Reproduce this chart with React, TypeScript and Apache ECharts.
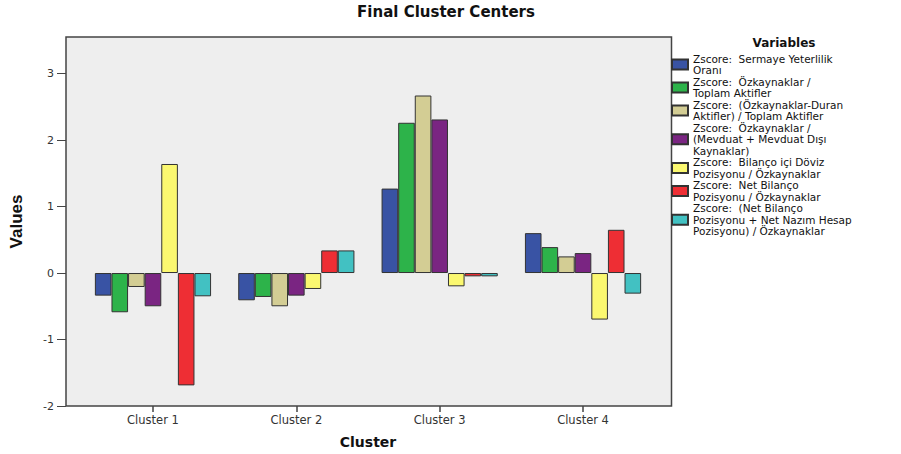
import React, { useEffect, useRef } from "react";
import * as echarts from "echarts";

const categories = ["Cluster 1", "Cluster 2", "Cluster 3", "Cluster 4"];
const seriesNames = [
  "Zscore:  Sermaye Yeterlilik\nOranı",
  "Zscore:  Özkaynaklar /\nToplam Aktifler",
  "Zscore:  (Özkaynaklar-Duran\nAktifler) / Toplam Aktifler",
  "Zscore:  Özkaynaklar /\n(Mevduat + Mevduat Dışı\nKaynaklar)",
  "Zscore:  Bilanço içi Döviz\nPozisyonu / Özkaynaklar",
  "Zscore:  Net Bilanço\nPozisyonu / Özkaynaklar",
  "Zscore:  (Net Bilanço\nPozisyonu + Net Nazım Hesap\nPozisyonu) / Özkaynaklar",
];
const sermaye = [-0.34, -0.41, 1.27, 0.6];
const ozkAktif = [-0.59, -0.36, 2.26, 0.39];
const ozkDuran = [-0.21, -0.5, 2.67, 0.25];
const ozkMevduat = [-0.5, -0.34, 2.31, 0.3];
const doviz = [1.64, -0.24, -0.2, -0.7];
const netBilanco = [-1.69, 0.34, -0.05, 0.65];
const netNazim = [-0.35, 0.34, -0.05, -0.31];
const seriesValues = [sermaye, ozkAktif, ozkDuran, ozkMevduat, doviz, netBilanco, netNazim];
const colors = ["#3953a4", "#2db34a", "#d3cd94", "#7a2582", "#fbf870", "#ee2e34", "#42c1c2"];
const yTicks = [-2, -1, 0, 1, 2, 3];

export default function App() {
  const ref = useRef<HTMLDivElement>(null);
  useEffect(() => {
    document.body.style.margin = "0";
    const chart = echarts.init(ref.current!, null, { renderer: "svg" });
    const font = "DejaVu Sans, Verdana, sans-serif";
    chart.setOption({
      animation: false,
      backgroundColor: "#ffffff",
      title: [
        {
          text: "Final Cluster Centers",
          left: 446,
          top: 4,
          textAlign: "center",
          padding: 0,
          textStyle: { fontFamily: font, fontSize: 15, fontWeight: "bold", color: "#111" },
        },
        {
          text: "Variables",
          left: 784,
          top: 37,
          textAlign: "center",
          padding: 0,
          textStyle: { fontFamily: font, fontSize: 12, fontWeight: "bold", color: "#111" },
        },
      ],
      legend: {
        orient: "vertical",
        left: 671,
        top: 53,
        padding: 0,
        itemWidth: 16,
        itemHeight: 10,
        itemGap: 0,
        icon: "rect",
        textStyle: { fontFamily: font, fontSize: 10.5, lineHeight: 11.5, color: "#111" },
        data: seriesNames,
      },
      grid: [
        {
          left: 64.5,
          right: 229.5,
          top: 37,
          bottom: 48,
          show: true,
          backgroundColor: "#eeeeee",
          borderColor: "#444",
          borderWidth: 1.5,
        },
        { left: 81.3, right: 246.3, top: 37, bottom: 48 },
      ],
      xAxis: [
        { type: "value", gridIndex: 0, min: 0, max: 1, show: false },
        {
          type: "category",
          gridIndex: 1,
          data: categories,
          axisLine: { show: false, onZero: false },
          axisTick: { show: true, alignWithLabel: true, length: 6, lineStyle: { color: "#444", width: 1.5 } },
          axisLabel: { fontFamily: font, fontSize: 11.5, color: "#333", margin: 8 },
          name: "Cluster",
          nameLocation: "middle",
          nameGap: 29,
          nameTextStyle: { fontFamily: font, fontSize: 14, fontWeight: "bold", color: "#111" },
        },
      ],
      yAxis: [
        {
          type: "value",
          gridIndex: 0,
          min: -2,
          max: 3.55,
          axisLine: { show: false },
          splitLine: { show: false },
          axisTick: { show: true, length: 9, customValues: yTicks, lineStyle: { color: "#444" } },
          axisLabel: { fontFamily: font, fontSize: 11, color: "#333", margin: 12, customValues: yTicks },
          name: "Values",
          nameLocation: "middle",
          nameGap: 41,
          nameTextStyle: {
            fontFamily: "Liberation Sans Narrow, Arial Narrow, sans-serif",
            fontSize: 17,
            fontWeight: "bold",
            color: "#111",
          },
        },
        { type: "value", gridIndex: 1, min: -2, max: 3.55, show: false },
      ],
      series: seriesNames.map((name, i) => ({
        name,
        type: "bar",
        xAxisIndex: 1,
        yAxisIndex: 1,
        data: seriesValues[i],
        barWidth: 16.6,
        barGap: "0%",
        itemStyle: { color: colors[i], borderColor: "#333", borderWidth: 1 },
      })),
    });
    return () => chart.dispose();
  }, []);
  return <div ref={ref} style={{ width: 901, height: 454 }} />;
}
